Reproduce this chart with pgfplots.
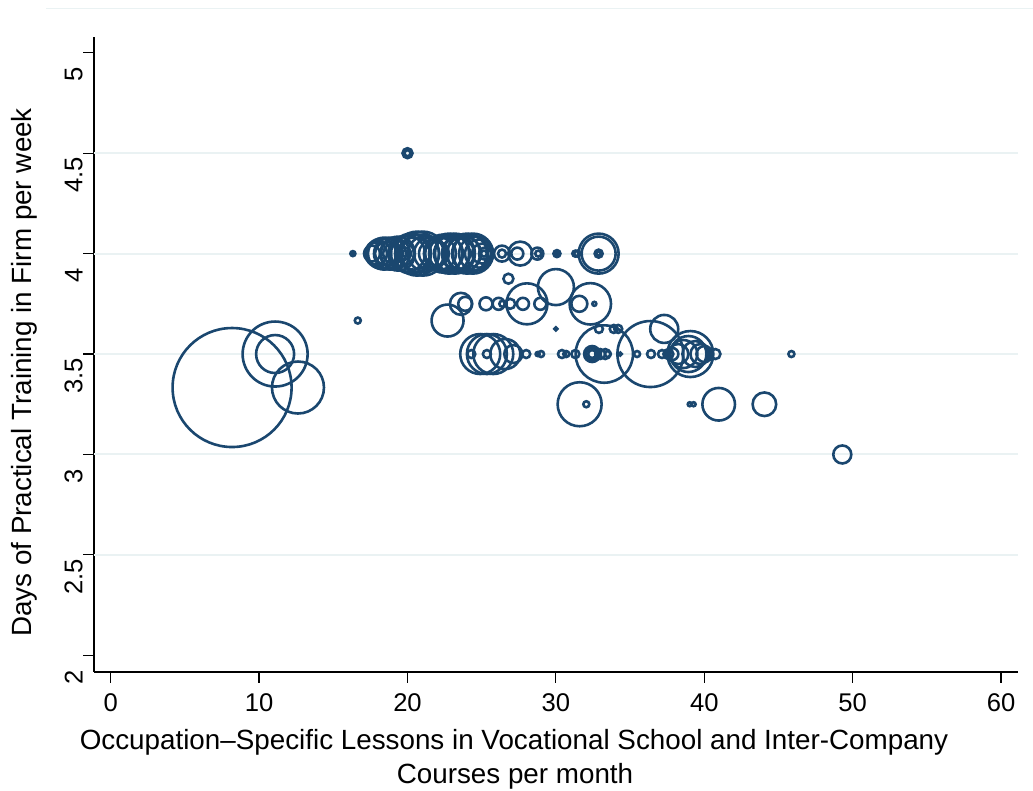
\documentclass[border=0pt]{standalone}
\usepackage{pgfplots}
\pgfplotsset{compat=1.18}
\usepackage{fontspec}
\setmainfont{Liberation Sans}
\definecolor{statanavy}{RGB}{26,71,111}
\definecolor{gridc}{RGB}{234,242,243}
\begin{document}
\fontsize{12.8}{15}\selectfont
\begin{tikzpicture}
\useasboundingbox (0,0) rectangle (516.5pt,395.5pt);
\draw[gridc, line width=0.6pt] (23pt,391.3pt) -- (516.5pt,391.3pt);
\begin{axis}[
  at={(47pt,59.5pt)}, anchor=south west,
  scale only axis, width=461.85pt, height=317.65pt,
  xmin=-1.125, xmax=61.12, ymin=1.917, ymax=5.08,
  axis x line*=bottom, axis y line*=left,
  axis line style={-, line width=0.6pt, black},
  every tick/.style={black, line width=0.6pt},
  tick align=outside, major tick length=5.5pt,
  xtick={0,10,20,30,40,50,60},
  xticklabels={0,10,20,30,40,50,60},
  ytick={2,2.5,3,3.5,4,4.5,5},
  yticklabels={2,2.5,3,3.5,4,4.5,5},
  extra y ticks={2.5,3,3.5,4,4.5},
  extra y tick labels={},
  extra y tick style={grid=major, major tick length=0pt},
  major grid style={gridc, line width=1pt},
  /pgf/number format/assume math mode=true,
  xticklabel style={anchor=north, inner sep=0pt, yshift=-5pt},
  yticklabel style={rotate=90, anchor=south, inner sep=0pt, xshift=-11pt},
  clip=false,
]
\addplot[scatter, only marks, mark=o, line width=1.3pt,
  scatter/use mapped color={draw=statanavy},
  visualization depends on={0.5*\thisrow{r} \as \rr},
  scatter/@pre marker code/.append style={/tikz/mark size=\rr}]
table {
x y r
20.0 4.5 5
20.0 4.5 3
16.32 4 2.5
16.32 4 1.2
17.61 4 8
17.88 4 11
18.02 4 13
18.22 4 15
18.42 4 16
18.62 4 12
18.82 4 16
19.03 4 10
19.16 4 15
19.36 4 17
19.56 4 13
19.83 4 6
19.83 4 3
19.97 4 18
20.24 4 20
20.44 4 16
20.64 4 22
20.85 4 19
21.05 4 22
21.25 4 18
21.52 4 16
21.72 4 14
21.99 4 12
22.19 4 16
22.40 4 19
22.60 4 17
22.80 4 20
23.00 4 18
23.20 4 20
23.41 4 16
23.61 4 19
23.81 4 17
24.01 4 20
24.21 4 18
24.42 4 20
24.62 4 17
24.82 4 14
25.02 4 10
25.22 4 6
25.15 4 3
26.37 4 8
26.37 4 4
27.40 4 6
27.60 4 12
28.75 4 6
28.81 4 3
30.07 4 3.5
30.07 4 1.5
31.31 4 3
31.44 4 3
32.88 4 20
32.88 4 17
32.88 4 4
32.88 4 2
26.8 3.875 5
30.0 3.8333 18
23.60 3.75 11
23.89 3.75 7
25.29 3.75 6.5
26.14 3.75 6
26.39 3.75 3
26.92 3.75 5
27.78 3.75 6
28.05 3.75 20.5
28.95 3.75 6
31.58 3.75 8
32.32 3.75 20.7
32.59 3.75 2
16.65 3.6667 3
22.7 3.6667 16
30.0 3.625 1.5
32.9 3.625 4
33.9 3.625 4
34.2 3.625 4
37.3 3.625 14
24.30 3.5 4
24.90 3.5 20
25.35 3.5 20
25.35 3.5 4
25.78 3.5 20
26.59 3.5 15
27.13 3.5 9
28.00 3.5 4
28.77 3.5 2
29.00 3.5 3
30.41 3.5 4
30.70 3.5 3
31.31 3.5 4
32.44 3.5 8
32.44 3.5 6
32.44 3.5 4
32.99 3.5 5
33.26 3.5 28.7
33.33 3.5 5
33.5 3.5 3
34.34 3.5 1.5
35.47 3.5 3
36.37 3.5 33
36.41 3.5 4
37.15 3.5 4
37.58 3.5 5
37.85 3.5 6
38.25 3.5 10
38.59 3.5 14
38.93 3.5 18
39.06 3.5 23
39.40 3.5 13
39.74 3.5 10
40.01 3.5 8
40.75 3.5 5
45.87 3.5 3
31.60 3.25 22
32.05 3.25 3
39.02 3.25 2
39.28 3.25 2
40.97 3.25 16.3
44.05 3.25 11.8
8.18 3.3333 59.5
12.62 3.3333 26
11.08 3.5 32.5
11.08 3.5 19
49.3 3.0 9
};
\end{axis}
\node[anchor=base, font=\fontsize{13.9}{16}\selectfont] at (257pt,20.5pt) {Occupation–Specific Lessons in Vocational School and Inter-Company};
\node[anchor=base, font=\fontsize{13.9}{16}\selectfont] at (257.5pt,3.5pt) {Courses per month};
\node[rotate=90, anchor=base, font=\fontsize{13.9}{16}\selectfont] at (16pt,209.25pt) {Days of Practical Training in Firm per week};
\end{tikzpicture}
\end{document}
